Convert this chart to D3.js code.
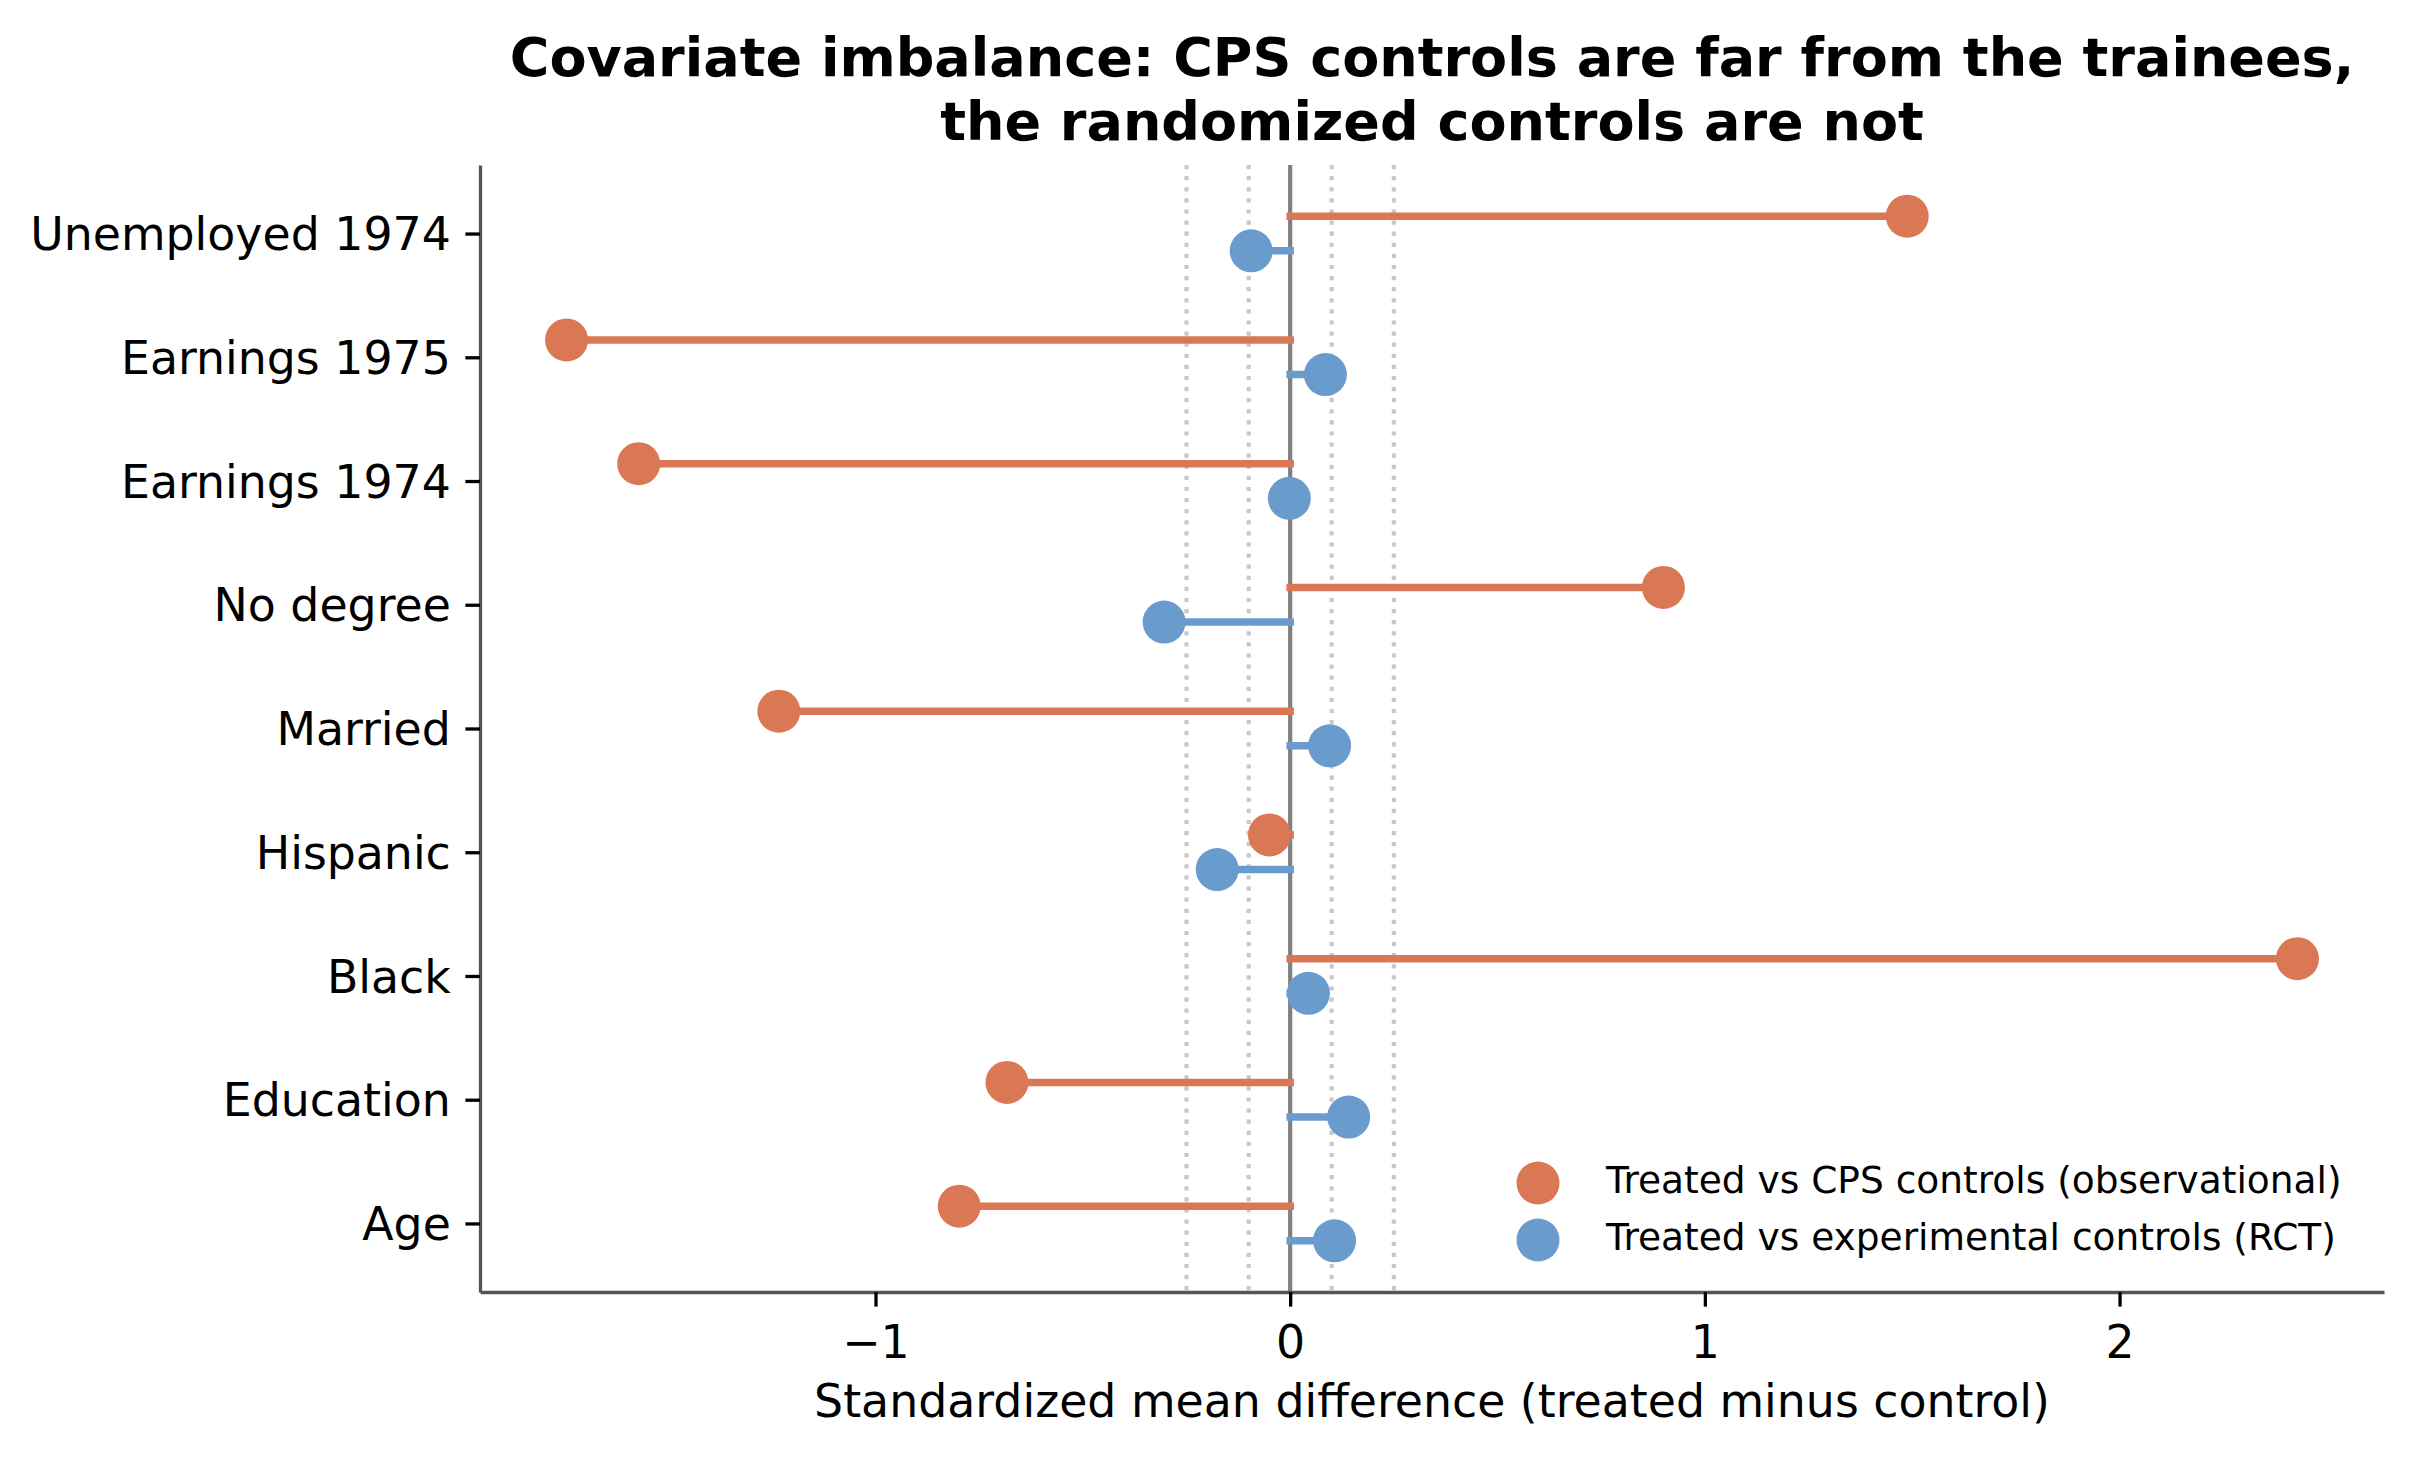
<!DOCTYPE html>
<html>
<head>
<script src="https://d3js.org/d3.v7.min.js"></script>
<style>
  body { margin: 0; background: #fff; }
  text { font-family: "DejaVu Sans", sans-serif; }
</style>
</head>
<body>
<script>
  // covariates, bottom to top
  var covariates = ["Age", "Education", "Black", "Hispanic", "Married", "No degree",
    "Earnings 1974", "Earnings 1975", "Unemployed 1974"];
  var smdCps = [-0.798, -0.683, 2.429, -0.05, -1.233, 0.90, -1.571, -1.745, 1.488];
  var smdRct = [0.107, 0.141, 0.044, -0.176, 0.095, -0.304, -0.002, 0.085, -0.094];
  var xTicks = [-1, 0, 1, 2];
  var refLines = [-0.25, -0.1, 0.1, 0.25];
  var seriesNames = ["Treated vs CPS controls (observational)",
    "Treated vs experimental controls (RCT)"];

  var width = 2413, height = 1460;
  var margin = { top: 165, right: 29, bottom: 168, left: 480 };
  var offset = 0.14;
  var colors = ["#da7856", "#6a9bcd"];

  var svg = d3.select("body").append("svg")
    .attr("width", width)
    .attr("height", height);

  var allX = smdCps.concat(smdRct, [0]);
  var xmin = d3.min(allX), xmax = d3.max(allX);
  var xpad = (xmax - xmin) * 0.05;
  var x = d3.scaleLinear()
    .domain([xmin - xpad, xmax + xpad])
    .range([margin.left, width - margin.right]);

  var ylo = -offset, yhi = covariates.length - 1 + offset;
  var ypad = (yhi - ylo) * 0.05;
  var y = d3.scaleLinear()
    .domain([ylo - ypad, yhi + ypad])
    .range([height - margin.bottom, margin.top]);

  var series = [
    { name: seriesNames[0], values: smdCps, shift: offset, color: colors[0] },
    { name: seriesNames[1], values: smdRct, shift: -offset, color: colors[1] }
  ];

  // dotted reference lines
  svg.selectAll("line.ref")
    .data(refLines)
    .enter().append("line")
    .attr("class", "ref")
    .attr("x1", d => x(d)).attr("x2", d => x(d))
    .attr("y1", margin.top).attr("y2", height - margin.bottom)
    .attr("stroke", "#c8c8c8")
    .attr("stroke-width", 4.2)
    .attr("stroke-dasharray", "4.2 6.9");

  // zero line
  svg.append("line")
    .attr("x1", x(0)).attr("x2", x(0))
    .attr("y1", margin.top).attr("y2", height - margin.bottom)
    .attr("stroke", "#808080")
    .attr("stroke-width", 4.2);

  series.forEach(function(s) {
    var g = svg.append("g");
    g.selectAll("line")
      .data(s.values)
      .enter().append("line")
      .attr("x1", x(0))
      .attr("x2", d => x(d))
      .attr("y1", (d, i) => y(i + s.shift))
      .attr("y2", (d, i) => y(i + s.shift))
      .attr("stroke", s.color)
      .attr("stroke-width", 7.5)
      .attr("stroke-linecap", "square");
  });
  series.forEach(function(s) {
    svg.append("g").selectAll("circle")
      .data(s.values)
      .enter().append("circle")
      .attr("cx", d => x(d))
      .attr("cy", (d, i) => y(i + s.shift))
      .attr("r", 21.5)
      .attr("fill", s.color);
  });

  // axes
  var xAxis = svg.append("g")
    .attr("transform", "translate(0," + (height - margin.bottom) + ")")
    .call(d3.axisBottom(x).tickValues(xTicks)
      .tickFormat(d => d < 0 ? "\u2212" + Math.abs(d) : d)
      .tickSizeInner(14.6).tickSizeOuter(0).tickPadding(14.6));

  var yAxis = svg.append("g")
    .attr("transform", "translate(" + margin.left + ",0)")
    .call(d3.axisLeft(y).tickValues(d3.range(covariates.length))
      .tickFormat(i => covariates[i])
      .tickSizeInner(14.6).tickSizeOuter(0).tickPadding(14.6));

  [xAxis, yAxis].forEach(function(a) {
    a.select(".domain").attr("stroke", "#555555").attr("stroke-width", 3.3);
    a.selectAll(".tick line").attr("stroke", "#000").attr("stroke-width", 3.3);
    a.selectAll(".tick text")
      .attr("fill", "#000")
      .style("font-size", "45.8px")
      .style("font-family", "'DejaVu Sans', sans-serif");
  });
  xAxis.selectAll(".tick text").attr("dy", "0.8em");
  yAxis.selectAll(".tick text").attr("dy", "0.35em");

  // x label
  svg.append("text")
    .attr("x", (margin.left + width - margin.right) / 2)
    .attr("y", 1417)
    .attr("text-anchor", "middle")
    .style("font-size", "45.8px")
    .text("Standardized mean difference (treated minus control)");

  // title
  var titleLines = ["Covariate imbalance: CPS controls are far from the trainees,",
    "the randomized controls are not"];
  svg.append("g").selectAll("text")
    .data(titleLines)
    .enter().append("text")
    .attr("x", (margin.left + width - margin.right) / 2)
    .attr("y", (d, i) => 76 + i * 64)
    .attr("text-anchor", "middle")
    .style("font-size", "54px")
    .style("font-weight", "bold")
    .text(d => d);

  // legend
  var legend = svg.append("g")
    .attr("transform", "translate(1538,1183)");
  var item = legend.selectAll("g")
    .data(series)
    .enter().append("g")
    .attr("transform", (d, i) => "translate(0," + i * 57 + ")");
  item.append("circle")
    .attr("r", 21.5)
    .attr("fill", d => d.color);
  item.append("text")
    .attr("x", 68)
    .attr("dy", 10)
    .style("font-size", "37.5px")
    .text(d => d.name);
</script>
</body>
</html>
